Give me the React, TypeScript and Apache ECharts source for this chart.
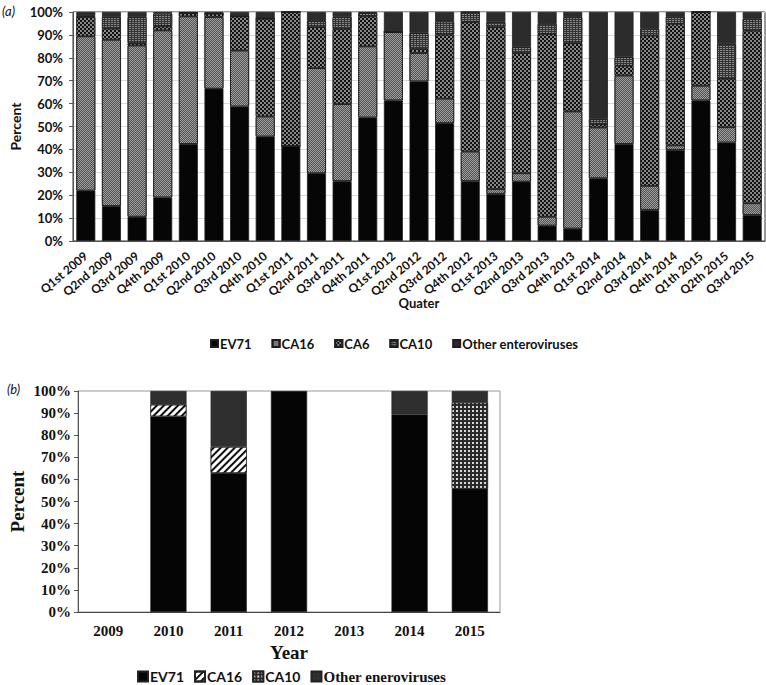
import React, { useEffect, useRef } from "react";
import * as echarts from "echarts";

const quarters = [
  "Q1st 2009", "Q2nd 2009", "Q3rd 2009", "Q4th 2009",
  "Q1st 2010", "Q2nd 2010", "Q3rd 2010", "Q4th 2010",
  "Q1st 2011", "Q2nd 2011", "Q3rd 2011", "Q4th 2011",
  "Q1st 2012", "Q2nd 2012", "Q3rd 2012", "Q4th 2012",
  "Q1st 2013", "Q2nd 2013", "Q3rd 2013", "Q4th 2013",
  "Q1st 2014", "Q2nd 2014", "Q3rd 2014", "Q4th 2014",
  "Q1th 2015", "Q2th 2015", "Q3rd 2015",
];
const qEV71 = [22.0, 15.3, 10.6, 19.0, 42.4, 66.5, 58.7, 45.6, 41.5, 29.6, 26.2, 53.9, 61.4, 69.7, 51.5, 26.2, 20.6, 25.9, 6.7, 5.4, 27.4, 42.4, 13.6, 39.8, 61.4, 43.0, 11.4];
const qCA16 = [67.4, 72.6, 74.8, 73.0, 55.7, 31.3, 24.5, 8.8, 0, 45.9, 33.6, 31.1, 29.9, 12.4, 10.7, 12.9, 2.1, 3.7, 3.9, 51.2, 22.2, 29.9, 10.5, 2.0, 6.4, 6.7, 5.1];
const qCA6 = [8.4, 4.8, 1.0, 1.7, 1.5, 1.5, 14.9, 42.7, 58.5, 17.9, 32.8, 13.1, 0, 1.7, 27.9, 56.5, 70.7, 52.5, 79.8, 29.8, 1.4, 4.2, 65.6, 53.0, 32.2, 21.1, 75.3];
const qCA10 = [0.5, 5.1, 11.4, 5.6, 0, 0, 0, 0, 0, 2.7, 5.2, 1.5, 0, 7.0, 5.8, 4.4, 2.2, 2.6, 4.4, 11.3, 2.2, 3.8, 3.0, 3.3, 0, 15.2, 5.3];
const qOther = [1.7, 2.2, 2.2, 0.7, 0.4, 0.7, 1.9, 2.9, 0, 3.9, 2.2, 0.4, 8.7, 9.2, 4.1, 0, 4.4, 15.3, 5.2, 2.3, 46.8, 19.7, 7.3, 1.9, 0, 14.0, 2.9];

const years = ["2009", "2010", "2011", "2012", "2013", "2014", "2015"];
const yEV71 = [null, 88.5, 62.9, 100, null, 89.4, 55.8];
const yCA16 = [null, 5.3, 11.8, null, null, null, null];
const yCA10 = [null, null, null, null, null, null, 38.9];
const yOther = [null, 6.2, 25.3, null, null, 10.6, 5.3];

const sansA = "Lato";
const serifB = "Liberation Serif";

function App() {
  const refA = useRef<HTMLDivElement>(null);
  const refB = useRef<HTMLDivElement>(null);

  useEffect(() => {
    const a = echarts.init(refA.current!, undefined, { renderer: "svg" });
    const b = echarts.init(refB.current!, undefined, { renderer: "svg" });

    const border = { borderColor: "#1e1e1e", borderWidth: 0.8 };
    const mkA = (name: string, data: number[], color: string, decal?: any) => ({
      name,
      type: "bar",
      stack: "q",
      data,
      barCategoryGap: "26%",
      itemStyle: { color, ...border, ...(decal ? { decal } : {}) },
    });

    a.setOption({
      animation: false,
      backgroundColor: "#fff",
      graphic: [
        { type: "text", left: 2, top: 4, style: { text: "(a)", font: "italic 13px Lato", fill: "#111" } },
      ],
      grid: { left: 68, top: 12, width: 697, height: 229, show: true, borderColor: "#333", borderWidth: 1 },
      legend: {
        left: 205,
        top: 332,
        itemWidth: 7,
        itemHeight: 7,
        itemGap: 20,
        icon: "rect",
        textStyle: { fontFamily: sansA, fontWeight: "bold", fontSize: 13, color: "#111", padding: [0, 0, 0, -3] },
        data: ["EV71", "CA16", "CA6", "CA10", "Other enteroviruses"],
      },
      xAxis: {
        type: "category",
        data: quarters,
        name: "Quater",
        nameLocation: "middle",
        nameGap: 55,
        nameMoveOverlap: false,
        nameTextStyle: { fontFamily: sansA, fontWeight: "bold", fontSize: 13, color: "#111" },
        axisLine: { lineStyle: { color: "#555" } },
        axisTick: { show: false },
        axisLabel: { rotate: 40, interval: 0, fontFamily: sansA, fontWeight: "bold", fontSize: 12, color: "#111", margin: 13 },
      },
      yAxis: {
        type: "value",
        min: 0,
        max: 100,
        interval: 10,
        name: "Percent",
        nameLocation: "middle",
        nameRotate: 90,
        nameGap: 51,
        nameMoveOverlap: false,
        nameTextStyle: { fontFamily: sansA, fontWeight: "bold", fontSize: 14, color: "#111" },
        axisLine: { show: true, lineStyle: { color: "#555" } },
        axisTick: { show: true, inside: false, length: 4, lineStyle: { color: "#555" } },
        axisLabel: { formatter: "{value}%", fontFamily: sansA, fontWeight: "bold", fontSize: 13, color: "#111", margin: 10 },
        splitLine: { lineStyle: { color: "#d9d9d9" } },
      },
      series: [
        mkA("EV71", qEV71, "#060606"),
        mkA("CA16", qCA16, "#a0a0a0", {
          symbol: "rect", symbolSize: 1, color: "#505050",
          dashArrayX: [[1, 1], [0, 1, 1, 0]], dashArrayY: [1, 0],
        }),
        mkA("CA6", qCA6, "#101010", {
          symbol: "rect", symbolSize: 0.7, color: "#f4f4f4",
          dashArrayX: [[2, 2], [0, 2, 2, 0]], dashArrayY: [2, 0],
        }),
        mkA("CA10", qCA10, "#333333", {
          symbol: "rect", symbolSize: 1, color: "#8a8a8a",
          dashArrayX: [2, 1], dashArrayY: [1, 1],
        }),
        mkA("Other enteroviruses", qOther, "#2c2c2c"),
      ],
    });

    const mkB = (name: string, data: (number | null)[], color: string, decal?: any) => ({
      name,
      type: "bar",
      stack: "y",
      data,
      barCategoryGap: "40%",
      itemStyle: { color, borderColor: "#222", borderWidth: 0.6, ...(decal ? { decal } : {}) },
    });

    b.setOption({
      animation: false,
      backgroundColor: "#fff",
      graphic: [
        { type: "text", left: 7, top: 12, style: { text: "(b)", font: "italic 13px Lato", fill: "#111" } },
      ],
      grid: { left: 66, top: 21, width: 434, height: 221, show: true, borderColor: "#999", borderWidth: 1 },
      legend: {
        left: 132,
        top: 294,
        itemWidth: 10,
        itemHeight: 10,
        itemGap: 10,
        icon: "rect",
        formatter: (n: string) => (n.startsWith("Other") ? `{r|${n}}` : `{s|${n}}`),
        textStyle: {
          color: "#111",
          padding: [0, 0, 0, -3],
          rich: {
            s: { fontFamily: sansA, fontWeight: "bold", fontSize: 14, color: "#111", lineHeight: 14 },
            r: { fontFamily: serifB, fontWeight: "bold", fontSize: 15, color: "#111", lineHeight: 14 },
          },
        },
        data: ["EV71", "CA16", "CA10", "Other eneroviruses"],
      },
      xAxis: {
        type: "category",
        data: years,
        name: "Year",
        nameLocation: "middle",
        nameGap: 31,
        nameMoveOverlap: false,
        nameTextStyle: { fontFamily: serifB, fontWeight: "bold", fontSize: 19, color: "#111" },
        axisLine: { lineStyle: { color: "#444" } },
        axisTick: { show: false },
        axisLabel: { interval: 0, fontFamily: serifB, fontWeight: "bold", fontSize: 15, color: "#111", margin: 11 },
      },
      yAxis: {
        type: "value",
        min: 0,
        max: 100,
        interval: 10,
        name: "Percent",
        nameLocation: "middle",
        nameRotate: 90,
        nameGap: 51,
        nameMoveOverlap: false,
        nameTextStyle: { fontFamily: serifB, fontWeight: "bold", fontSize: 19, color: "#111" },
        axisLine: { show: true, lineStyle: { color: "#555" } },
        axisTick: { show: true, inside: false, length: 4, lineStyle: { color: "#555" } },
        axisLabel: { formatter: "{value}%", fontFamily: serifB, fontWeight: "bold", fontSize: 15, color: "#111", margin: 7 },
        splitLine: { show: false },
      },
      series: [
        mkB("EV71", yEV71, "#050505"),
        mkB("CA16", yCA16, "#ffffff", {
          symbol: "rect", symbolSize: 1, color: "#111",
          dashArrayX: [1, 0], dashArrayY: [2, 2.5], rotation: -Math.PI / 4,
        }),
        mkB("CA10", yCA10, "#2a2a2a", {
          symbol: "rect", symbolSize: 1, color: "#d8d8d8",
          dashArrayX: [1.5, 1.3], dashArrayY: [1.5, 1.3],
        }),
        mkB("Other eneroviruses", yOther, "#2f2f2f"),
      ],
    });

    return () => {
      a.dispose();
      b.dispose();
    };
  }, []);

  return (
    <>
      <div ref={refA} style={{ position: "fixed", left: 0, top: 0, width: 766, height: 370 }} />
      <div ref={refB} style={{ position: "fixed", left: 0, top: 370, width: 766, height: 315 }} />
    </>
  );
}

export default App;
